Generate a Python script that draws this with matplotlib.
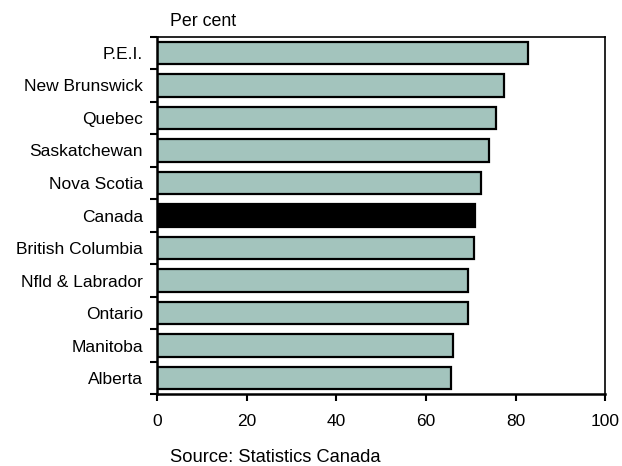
import numpy as np
import matplotlib.pyplot as plt

plt.rcParams['font.family'] = ['Liberation Sans', 'DejaVu Sans']

regions = ['P.E.I.', 'New Brunswick', 'Quebec', 'Saskatchewan', 'Nova Scotia', 'Canada',
           'British Columbia', 'Nfld & Labrador', 'Ontario', 'Manitoba', 'Alberta']
values = [82.7, 77.5, 75.7, 74.0, 72.2, 71.0, 70.7, 69.4, 69.3, 66.0, 65.6]

colors = ['black' if r == 'Canada' else '#a3c4bd' for r in regions]

fig = plt.figure(figsize=(6.22, 4.66), dpi=100)
ax = fig.add_axes([0.2524, 0.1539, 0.7208, 0.7673])

y = np.arange(len(regions))
ax.barh(y, values, height=0.7, color=colors, edgecolor='black', linewidth=1.6)

ax.set_xlim(0, 100)
ax.set_ylim(len(regions) - 0.5, -0.5)
ax.set_xticks([0, 20, 40, 60, 80, 100])
ax.set_yticks(y)
ax.set_yticklabels(regions)
ax.set_yticks(np.arange(-0.5, len(regions), 1), minor=True)

ax.tick_params(axis='y', which='major', length=0, pad=10, labelsize=12.5)
ax.tick_params(axis='y', which='minor', length=5, width=1.5, direction='out')
ax.tick_params(axis='x', length=5, width=1.5, direction='out', pad=9, labelsize=12.5)

for side in ['left', 'bottom']:
    ax.spines[side].set_linewidth(1.8)
for side in ['top', 'right']:
    ax.spines[side].set_linewidth(1.2)

fig.text(170 / 622, 1 - 22 / 466, 'Per cent', fontsize=12.8, va='center', ha='left')
fig.text(170 / 622, 1 - 457 / 466, 'Source: Statistics Canada', fontsize=13.2, va='center', ha='left')

fig.savefig('out.png', dpi=100)
